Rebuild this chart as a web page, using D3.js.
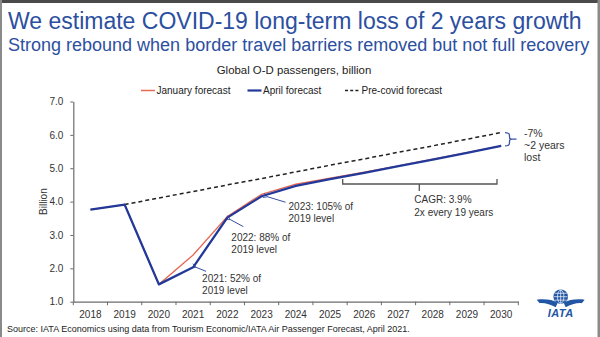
<!DOCTYPE html>
<html>
<head>
<meta charset="utf-8">
<script src="https://cdn.jsdelivr.net/npm/d3@7/dist/d3.min.js"></script>
<style>
  html, body { margin: 0; padding: 0; background: #fff; }
  svg { display: block; font-family: "Liberation Sans", Arial, sans-serif; }
</style>
</head>
<body>
<svg id="chart" width="600" height="337"></svg>
<script>
// ---------- data ----------
const years = ["2018","2019","2020","2021","2022","2023","2024","2025","2026","2027","2028","2029","2030"];
const januaryForecast = [3.76, 3.91, 1.52, 2.40, 3.55, 4.22, 4.52, 4.70, 4.88, 5.07, 5.27, 5.47, 5.67];
const aprilForecast   = [3.76, 3.91, 1.52, 2.03, 3.52, 4.16, 4.47, 4.67, 4.86, 5.06, 5.26, 5.46, 5.67];
const precovidYears   = ["2019","2020","2021","2022","2023","2024","2025","2026","2027","2028","2029","2030"];
const precovidForecast = [3.91, 4.11, 4.30, 4.50, 4.69, 4.89, 5.09, 5.28, 5.48, 5.67, 5.87, 6.07];
const yTicks = [1, 2, 3, 4, 5, 6, 7];
const seriesNames = ["January forecast", "April forecast", "Pre-covid forecast"];
const annotations = [
  { year: "2021", lines: ["2021: 52% of", "2019 level"] },
  { year: "2022", lines: ["2022: 88% of", "2019 level"] },
  { year: "2023", lines: ["2023: 105% of", "2019 level"] }
];
const cagrText = ["CAGR: 3.9%", "2x every 19 years"];
const lossText = ["-7%", "~2 years", "lost"];
const titleText = "We estimate COVID-19 long-term loss of 2 years growth";
const subtitleText = "Strong rebound when border travel barriers removed but not full recovery";
const chartTitle = "Global O-D passengers, billion";
const yLabel = "Billion";
const sourceText = "Source: IATA Economics using data from Tourism Economic/IATA Air Passenger Forecast, April 2021.";

// ---------- styles ----------
const BLUE_TITLE = "#2c4f9f";
const BLUE_LINE = "#22399a";
const RED_LINE = "#e46a55";
const AXIS = "#6b6b6b";
const TXT = "#333";

const svg = d3.select("#chart");

// frame
svg.append("rect").attr("x", 0).attr("y", 0).attr("width", 600).attr("height", 337).attr("fill", "#fff");
svg.append("rect").attr("x", 0).attr("y", 0).attr("width", 600).attr("height", 3).attr("fill", "#4a4a4a");
svg.append("rect").attr("x", 0).attr("y", 0).attr("width", 2).attr("height", 337).attr("fill", "#8a8a8a");
svg.append("rect").attr("x", 597.5).attr("y", 0).attr("width", 2.5).attr("height", 337).attr("fill", "#8a8a8a");

// titles
svg.append("text").attr("x", 8).attr("y", 29).attr("font-size", 23).attr("fill", BLUE_TITLE).text(titleText);
svg.append("text").attr("x", 8).attr("y", 50.5).attr("font-size", 18).attr("fill", BLUE_TITLE).text(subtitleText);
svg.append("text").attr("x", 294).attr("y", 74).attr("text-anchor", "middle").attr("font-size", 11.4).attr("fill", "#222").text(chartTitle);

// scales
const x = d3.scaleBand().domain(years).range([73.3, 518.3]).padding(0);
const cx = d => x(d) + x.bandwidth() / 2;
const y = d3.scaleLinear().domain([1, 7]).range([301.7, 101.5]);

// y axis
const yAxis = svg.append("g").attr("transform", "translate(73.3,0)")
  .call(d3.axisLeft(y).tickValues(yTicks).tickFormat(d3.format(".1f")).tickSize(3).tickSizeOuter(0).tickPadding(7));
yAxis.select(".domain").attr("stroke", AXIS).attr("stroke-width", 1.2);
yAxis.selectAll(".tick line").attr("stroke", AXIS);
yAxis.selectAll(".tick text").attr("font-size", 10).attr("fill", TXT).attr("font-family", "Liberation Sans, Arial, sans-serif");

// x axis (labels at band centres, ticks at band edges)
const xAxis = svg.append("g").attr("transform", `translate(0,${y(1)})`)
  .call(d3.axisBottom(x).tickSize(0).tickPadding(9));
xAxis.select(".domain").attr("stroke", AXIS).attr("stroke-width", 1.2);
xAxis.selectAll(".tick text").attr("font-size", 10).attr("fill", TXT).attr("font-family", "Liberation Sans, Arial, sans-serif");
const edges = years.map(d => x(d)).concat([x.range()[1]]);
xAxis.selectAll("line.edge").data(edges).enter().append("line")
  .attr("x1", d => d).attr("x2", d => d).attr("y1", 0).attr("y2", 3.5)
  .attr("stroke", AXIS).attr("stroke-width", 1);

// y label
svg.append("text").attr("transform", `translate(46.5,${y(4)}) rotate(-90)`)
  .attr("text-anchor", "middle").attr("font-size", 10).attr("fill", TXT).text(yLabel);

// lines
const line = d3.line().x(d => cx(d[0])).y(d => y(d[1]));
svg.append("path").datum(precovidYears.map((d, i) => [d, precovidForecast[i]]))
  .attr("d", line).attr("fill", "none").attr("stroke", "#222").attr("stroke-width", 1.5).attr("stroke-dasharray", "4,3");
svg.append("path").datum(years.map((d, i) => [d, januaryForecast[i]]))
  .attr("d", line).attr("fill", "none").attr("stroke", RED_LINE).attr("stroke-width", 1.3);
svg.append("path").datum(years.map((d, i) => [d, aprilForecast[i]]))
  .attr("d", line).attr("fill", "none").attr("stroke", BLUE_LINE).attr("stroke-width", 2.3).attr("stroke-linejoin", "round");

// legend
const legend = svg.append("g");
const legItems = [
  { x: 141, w: 14, color: RED_LINE, sw: 1.5, dash: null },
  { x: 247.5, w: 14, color: BLUE_LINE, sw: 2.2, dash: null },
  { x: 345, w: 15, color: "#222", sw: 1.5, dash: "3,2.2" }
];
legItems.forEach((it, i) => {
  legend.append("line").attr("x1", it.x).attr("x2", it.x + it.w).attr("y1", 90.5).attr("y2", 90.5)
    .attr("stroke", it.color).attr("stroke-width", it.sw).attr("stroke-dasharray", it.dash);
  legend.append("text").attr("x", it.x + it.w + 1.5).attr("y", 94).attr("font-size", 10).attr("fill", "#222").text(seriesNames[i]);
});

// annotation arrows
const defs = svg.append("defs");
defs.append("marker").attr("id", "arr").attr("viewBox", "0 0 10 10").attr("refX", 1).attr("refY", 5)
  .attr("markerWidth", 6).attr("markerHeight", 6).attr("orient", "auto-start-reverse")
  .append("path").attr("d", "M9,1 L1,5 L9,9").attr("fill", "none").attr("stroke", BLUE_LINE).attr("stroke-width", 1.3);

const annOffsets = {
  "2021": { tip: [3, 0], tail: [13, 4], text: [9, 15] },
  "2022": { tip: [3, 2], tail: [16, 9], text: [4, 23.5] },
  "2023": { tip: [6, 0.5], tail: [24, 6], text: [27, 13.5] }
};
annotations.forEach(a => {
  const i = years.indexOf(a.year);
  const px = cx(a.year), py = y(aprilForecast[i]);
  const o = annOffsets[a.year];
  svg.append("line")
    .attr("x1", px + o.tail[0]).attr("y1", py + o.tail[1])
    .attr("x2", px + o.tip[0]).attr("y2", py + o.tip[1])
    .attr("stroke", BLUE_LINE).attr("stroke-width", 0.9).attr("marker-end", "url(#arr)");
  a.lines.forEach((t, k) => {
    svg.append("text").attr("x", px + o.text[0]).attr("y", py + o.text[1] + k * 12)
      .attr("font-size", 10).attr("fill", TXT).text(t);
  });
});

// CAGR bracket
const bx0 = 342.7, bx1 = 497, by = 184, bmid = 419.3;
svg.append("path").attr("d", `M${bx0},${by - 5}V${by}H${bx1}V${by - 5}M${bmid},${by}V${by + 7}`)
  .attr("fill", "none").attr("stroke", "#555").attr("stroke-width", 1.3);
cagrText.forEach((t, k) => {
  svg.append("text").attr("x", 414.3).attr("y", 203.3 + k * 12.4).attr("font-size", 10).attr("fill", TXT).text(t);
});

// loss bracket (between 2030 pre-covid and April values)
const yTop = y(precovidForecast[precovidForecast.length - 1]);
const yBot = y(aprilForecast[aprilForecast.length - 1]);
const ym = (yTop + yBot) / 2, bxL = 505, bxR = 509.5;
svg.append("path").attr("d",
  `M${bxL},${yTop} Q${bxR},${yTop} ${bxR},${yTop + 3} V${ym - 2} Q${bxR},${ym} ${bxR + 2.5},${ym} H${bxR + 7}` +
  `M${bxR + 2.5},${ym} Q${bxR},${ym} ${bxR},${ym + 2} V${yBot - 3} Q${bxR},${yBot} ${bxL},${yBot}`)
  .attr("fill", "none").attr("stroke", "#3a55a8").attr("stroke-width", 1.3);
lossText.forEach((t, k) => {
  svg.append("text").attr("x", 524).attr("y", 136.5 + k * 12.4).attr("font-size", 10.5).attr("fill", TXT).text(t);
});

// source
svg.append("text").attr("x", 7).attr("y", 332).attr("font-size", 9).attr("fill", "#222").text(sourceText);

// IATA logo
const logo = svg.append("g").attr("transform", "translate(560.7,296.7)");
const LOGO = "#2156a5";
logo.append("path").attr("d", "M-24,3 C-16,2 -8,3 -3,6 L-5,10.5 C-10,8 -16,6 -21,6.5 Z").attr("fill", LOGO);
logo.append("path").attr("d", "M24,3 C16,2 8,3 3,6 L5,10.5 C10,8 16,6 21,6.5 Z").attr("fill", LOGO);
logo.append("circle").attr("r", 7.3).attr("fill", LOGO);
logo.append("g").attr("stroke", "#fff").attr("stroke-width", 0.7).attr("fill", "none")
  .call(g => {
    g.append("ellipse").attr("rx", 3.2).attr("ry", 6.6);
    g.append("line").attr("x1", 0).attr("x2", 0).attr("y1", -6.8).attr("y2", 6.8);
    g.append("line").attr("x1", -6.8).attr("x2", 6.8).attr("y1", 0).attr("y2", 0);
    g.append("line").attr("x1", -6).attr("x2", 6).attr("y1", -3.4).attr("y2", -3.4);
    g.append("line").attr("x1", -6).attr("x2", 6).attr("y1", 3.4).attr("y2", 3.4);
  });
logo.append("text").attr("x", 0).attr("y", 20).attr("text-anchor", "middle")
  .attr("font-size", 11).attr("font-weight", "bold").attr("font-style", "italic")
  .attr("fill", LOGO).attr("letter-spacing", 0.5).text("IATA");
</script>
</body>
</html>
